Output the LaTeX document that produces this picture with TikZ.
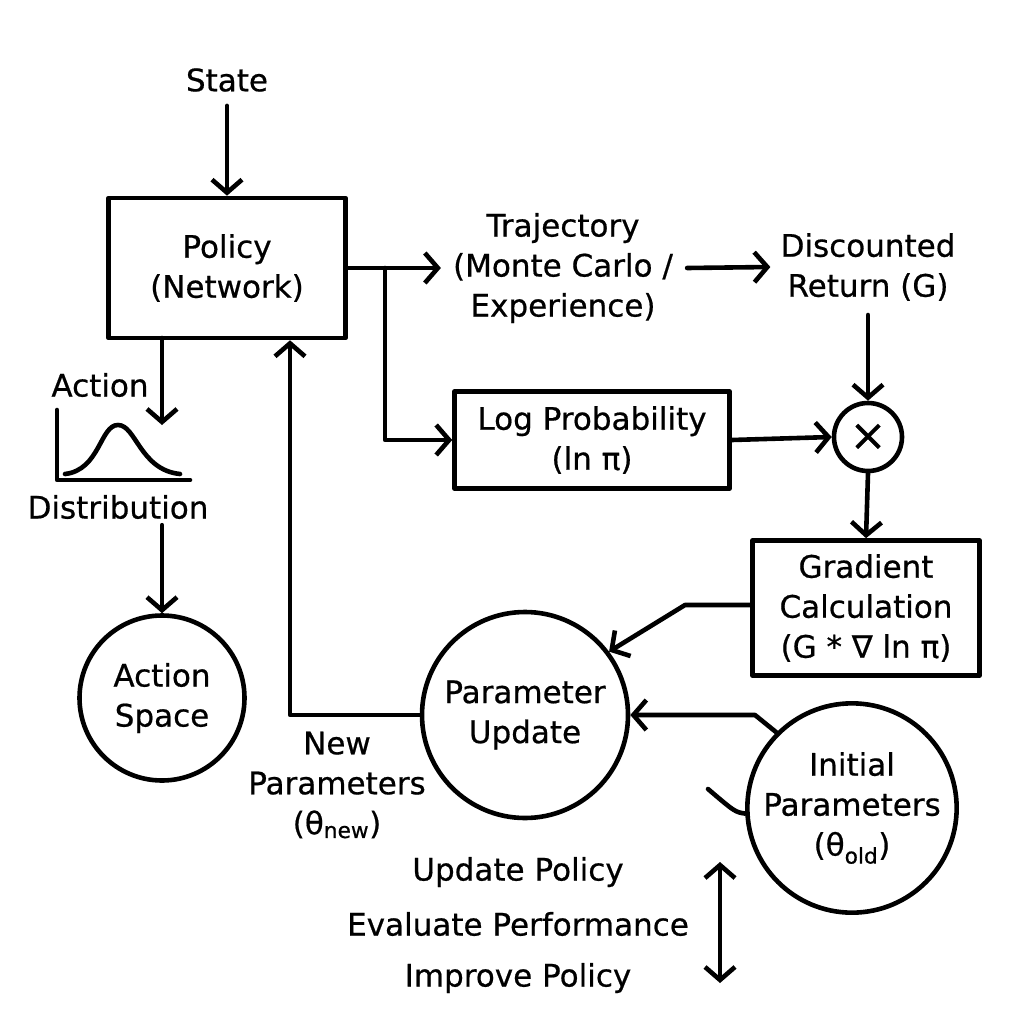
\documentclass[tikz,border=0pt]{standalone}
\usepackage{fontspec}
\setmainfont{DejaVu Sans}[BoldFont={DejaVu Sans}, BoldFeatures={FakeBold=0.6}]
\usetikzlibrary{arrows.meta,calc}
\begin{document}
\begin{tikzpicture}[x=1pt,y=-1pt,
  every node/.style={font=\fontsize{31}{40}\selectfont\bfseries, align=center, inner sep=4pt},
  lw/.style={line width=4.6pt, line cap=round, line join=round},
  boxn/.style={draw, lw, rectangle},
  circn/.style={draw, lw, circle, inner sep=0pt},
  arr/.style={lw, -{Straight Barb[length=13pt,width=30pt,line width=4.6pt]}},
  darr/.style={lw, {Straight Barb[length=13pt,width=30pt,line width=4.6pt]}-{Straight Barb[length=13pt,width=30pt,line width=4.6pt]}}
]
\useasboundingbox (0,0) rectangle (1024,1024);
\fill[white] (0,0) rectangle (1024,1024);

% nodes
\node (state) at (227,80) {State};
\node[boxn, minimum width=237pt, minimum height=140pt] (policy) at (227,268) {Policy\\(Network)};
\node (traj) at (563,268) {Trajectory\\(Monte Carlo /\\Experience)};
\node (disc) at (868,267) {Discounted\\Return (G)};
\node[boxn, minimum width=275pt, minimum height=97pt] (logp) at (592,440) {Log Probability\\(ln π)};
\node[circn, minimum size=68pt, font=\fontsize{44}{44}\selectfont\bfseries] (mult) at (868,437) {×};
\node[boxn, minimum width=227pt, minimum height=135pt] (grad) at (866,608) {Gradient\\Calculation\\(G * ∇ ln π)};
\node[circn, minimum size=206pt] (param) at (525,715) {Parameter\\Update};
\node[circn, minimum size=188pt] (init) at (852,808) {Initial\\Parameters\\(θ\textsubscript{old})};
\node[circn, minimum size=165pt] (aspace) at (162,698) {Action\\Space};
\node (newp) at (337,785) {New\\Parameters\\(θ\textsubscript{new})};
\node (act) at (100,385) {Action};
\node (dist) at (118,507) {Distribution};
\node (b1) at (518,872) {Update Policy};
\node (b2) at (518,924) {Evaluate Performance};
\node (b3) at (518,978) {Improve Policy};

% coordinates
\coordinate (br) at (385,268);
\coordinate (gbend) at (685,605);
\coordinate (ibend) at (755,715);
\coordinate (pb) at (290,715);
\coordinate (ptop) at (162,338);
\coordinate (dtip) at (162,425);
\coordinate (da1) at (720,862);
\coordinate (da2) at (720,983);
\coordinate (stray) at (708,789);

% connectors
\draw[arr] (state.south) ++(0,10) -- (policy.north);
\draw[arr] (policy.east) -- ($(traj.west)+(-8,0)$);
\draw[arr] (br) |- (logp.west);
\draw[arr] ($(traj.east)+(10,0)$) -- ($(disc.west)+(-6,0)$);
\draw[arr] ($(disc.south)+(0,10)$) -- (mult.north);
\draw[arr] (logp.east) -- (mult.west);
\draw[arr] (mult.south) -- (grad.north);
\draw[arr] (grad.west |- gbend) -- (gbend) -- (param.37);
\draw[arr] (init.135) -- (ibend) -- (param.east);
\draw[arr] (param.west) -- (pb) -- (pb |- policy.south);
\draw[arr] (ptop) -- (dtip);
\draw[arr] ($(dist.south)+(44,2)$) -- (aspace.north);
\draw[lw] (init.183) .. controls (735,812) .. (stray);
\draw[darr] (da1) -- (da2);

% distribution icon
\draw[lw] (57,410) -- (57,480) -- (190,480);
\draw[lw] (65,474) .. controls (100,470) and (100,425) .. (118,425)
  .. controls (136,425) and (140,470) .. (180,474);
\end{tikzpicture}
\end{document}
